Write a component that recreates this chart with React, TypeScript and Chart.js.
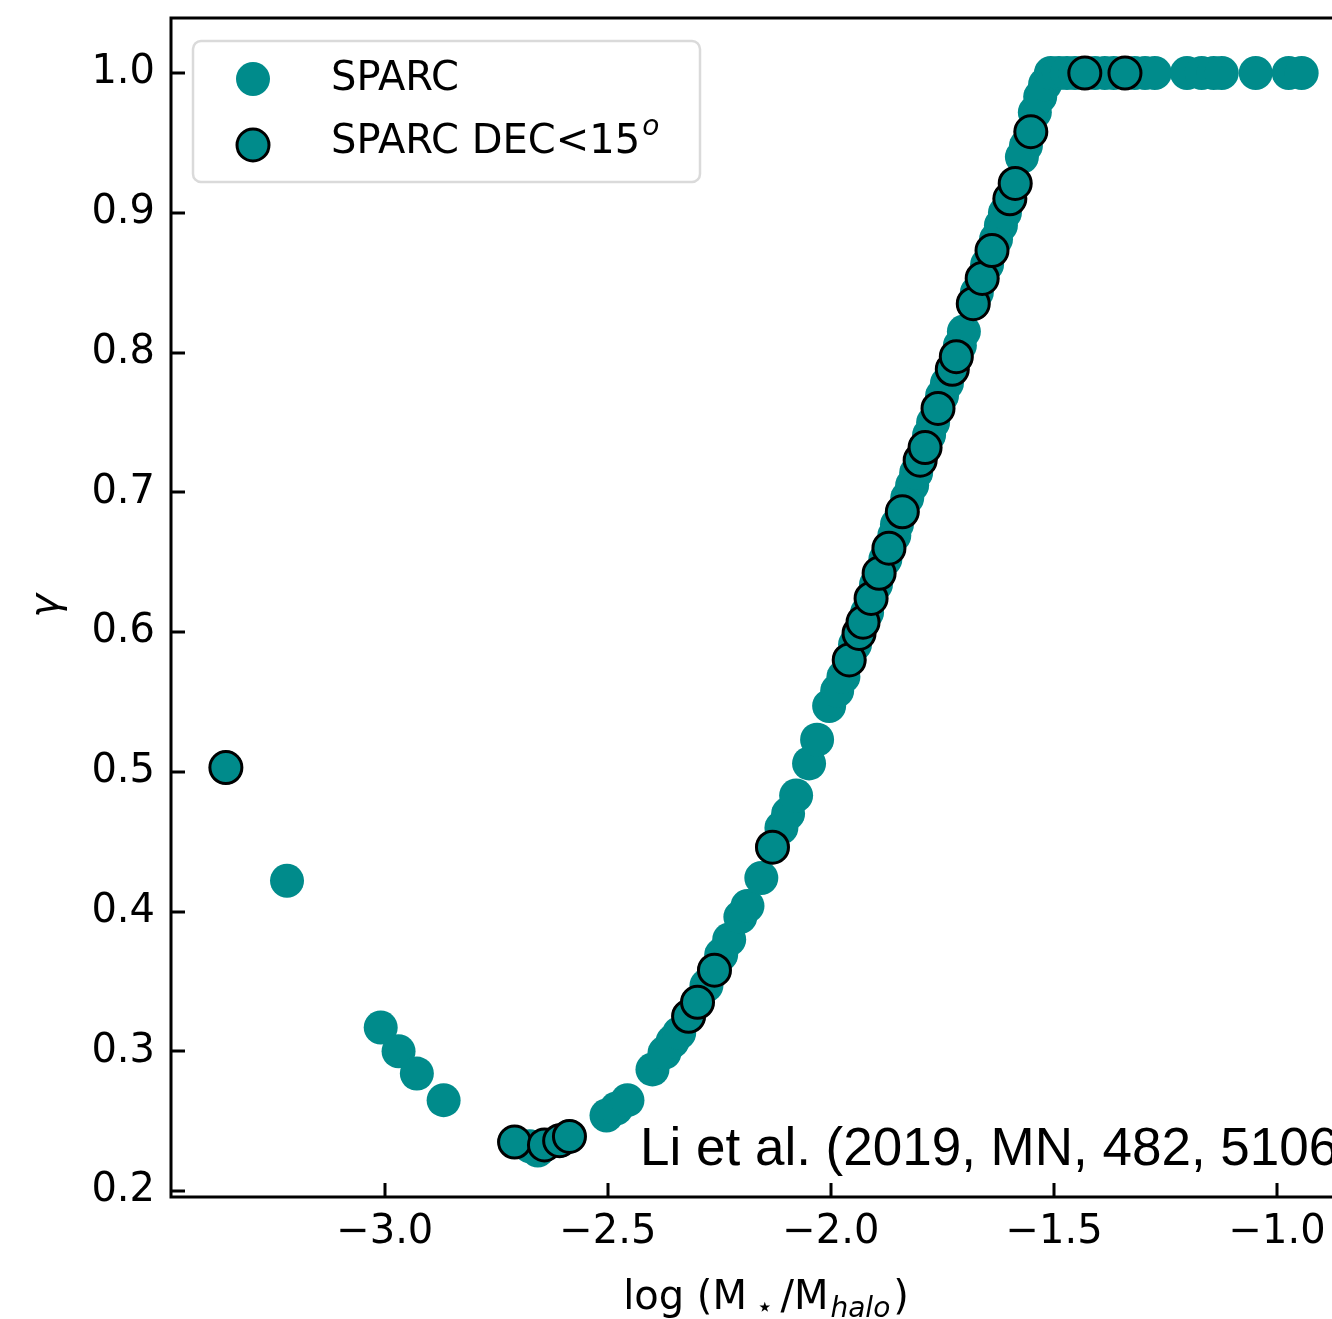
import { useEffect, useRef } from "react";
import { Chart, registerables } from "chart.js";

Chart.register(...registerables);

// log(M*/Mhalo) and gamma for the whole SPARC sample
const SPARC_X = [
  -3.356, -3.219, -3.009, -2.969, -2.928, -2.868,
  -2.709, -2.675, -2.642, -2.608, -2.586, -2.657,
  -2.503, -2.481, -2.456, -2.400, -2.373, -2.355, -2.340, -2.319, -2.299, -2.279,
  -2.261, -2.246, -2.228, -2.203, -2.187, -2.156, -2.131, -2.111, -2.096, -2.078,
  -2.049, -2.031, -2.004, -1.986, -1.972, -1.959, -1.946, -1.937, -1.928, -1.919,
  -1.910, -1.899, -1.892, -1.878, -1.870, -1.858, -1.852, -1.840, -1.829, -1.818,
  -1.809, -1.800, -1.789, -1.780, -1.771, -1.760, -1.751, -1.740, -1.728, -1.719,
  -1.711, -1.702, -1.681, -1.673, -1.661, -1.650, -1.639, -1.630, -1.619, -1.610,
  -1.599, -1.587, -1.572, -1.563, -1.552, -1.543, -1.531, -1.520,
  -1.507, -1.489, -1.471, -1.453, -1.431, -1.408, -1.386, -1.366, -1.341, -1.319,
  -1.296, -1.274, -1.202, -1.169, -1.142, -1.124, -1.048, -0.974, -0.945,
];
const SPARC_Y = [
  0.503, 0.422, 0.317, 0.300, 0.284, 0.265,
  0.235, 0.232, 0.233, 0.236, 0.239, 0.229,
  0.254, 0.259, 0.265, 0.287, 0.299, 0.307, 0.313, 0.325, 0.335, 0.347,
  0.358, 0.369, 0.380, 0.396, 0.404, 0.424, 0.446, 0.460, 0.470, 0.483,
  0.506, 0.523, 0.547, 0.558, 0.568, 0.580, 0.591, 0.599, 0.607, 0.614,
  0.624, 0.634, 0.642, 0.652, 0.660, 0.669, 0.677, 0.686, 0.696, 0.705,
  0.714, 0.723, 0.732, 0.741, 0.750, 0.760, 0.769, 0.778, 0.788, 0.797,
  0.805, 0.815, 0.835, 0.843, 0.853, 0.863, 0.873, 0.881, 0.891, 0.900,
  0.910, 0.921, 0.940, 0.948, 0.958, 0.972, 0.983, 0.992,
  1.0, 1.0, 1.0, 1.0, 1.0, 1.0, 1.0, 1.0, 1.0, 1.0,
  1.0, 1.0, 1.0, 1.0, 1.0, 1.0, 1.0, 1.0, 1.0,
];

// Galaxies with declination below 15 degrees
const DEC_X = [
  -3.356, -2.709, -2.642, -2.608, -2.586, -2.319, -2.299, -2.261, -2.131,
  -1.959, -1.937, -1.928, -1.910, -1.892, -1.870, -1.840, -1.800, -1.789,
  -1.760, -1.728, -1.719, -1.681, -1.661, -1.639, -1.599, -1.587, -1.552,
  -1.431, -1.341,
];
const DEC_Y = [
  0.503, 0.235, 0.233, 0.236, 0.239, 0.325, 0.335, 0.358, 0.446,
  0.580, 0.599, 0.607, 0.624, 0.642, 0.660, 0.686, 0.723, 0.732,
  0.760, 0.788, 0.797, 0.835, 0.853, 0.873, 0.910, 0.921, 0.958,
  1.0, 1.0,
];

const X_TICKS = [-3.0, -2.5, -2.0, -1.5, -1.0];
const Y_TICKS = [0.2, 0.3, 0.4, 0.5, 0.6, 0.7, 0.8, 0.9, 1.0];
const X_MIN = -3.479;
const X_MAX = -0.877;
const Y_MIN = 0.1957;
const Y_MAX = 1.0394;

const TEAL = "#008b8b";
const FONT = "'DejaVu Sans', 'Noto Sans', sans-serif";

const fmtTick = (v: number | string) => Number(v).toFixed(1).replace("-", "\u2212");

// Spines and inward tick marks
const framePlugin = {
  id: "frame",
  beforeDatasetsDraw(chart: any) {
    const { ctx, chartArea } = chart;
    const { left, right, top, bottom } = chartArea;
    const xs = chart.scales.x;
    const ys = chart.scales.y;
    ctx.save();
    ctx.strokeStyle = "#000";
    ctx.lineWidth = 3;
    ctx.lineCap = "butt";
    ctx.beginPath();
    ctx.moveTo(right + 2, top);
    ctx.lineTo(left, top);
    ctx.lineTo(left, bottom);
    ctx.lineTo(right + 2, bottom);
    ctx.stroke();
    ctx.beginPath();
    for (const v of X_TICKS) {
      const px = Math.round(xs.getPixelForValue(v));
      ctx.moveTo(px, bottom);
      ctx.lineTo(px, bottom - 14);
    }
    for (const v of Y_TICKS) {
      const py = Math.round(ys.getPixelForValue(v));
      ctx.moveTo(left, py);
      ctx.lineTo(left + 14, py);
    }
    ctx.stroke();
    ctx.restore();
  },
};

// Axis titles, legend and citation
const textPlugin = {
  id: "texts",
  afterDatasetsDraw(chart: any) {
    const { ctx } = chart;
    ctx.save();
    ctx.fillStyle = "#000";
    ctx.textBaseline = "alphabetic";

    // x-axis title: log (M⋆/M_halo)
    const big = `40px ${FONT}`;
    const small = `28px ${FONT}`;
    const smallIt = `italic 28px ${FONT}`;
    // [text, font, baseline shift, gap after]
    const parts: [string, string, number, number][] = [
      ["log (M", big, 0, 9],
      ["\u22C6", small, 7, 7],
      ["/M", big, 0, 2],
      ["halo", smallIt, 8, 3],
      [")", big, 0, 0],
    ];
    let total = 0;
    for (const [t, f, , g] of parts) {
      ctx.font = f;
      total += ctx.measureText(t).width + g;
    }
    let cx = 766 - total / 2;
    const base = 1309;
    ctx.textAlign = "left";
    for (const [t, f, dy, g] of parts) {
      ctx.font = f;
      ctx.fillText(t, cx, base + dy);
      cx += ctx.measureText(t).width + g;
    }

    // y-axis title: gamma
    ctx.save();
    ctx.translate(58, 606);
    ctx.rotate(-Math.PI / 2);
    ctx.font = `italic 40px ${FONT}`;
    ctx.textAlign = "center";
    ctx.fillText("\u03B3", 0, 0);
    ctx.restore();

    // legend
    const bx = 193, by = 41, bw = 507, bh = 141, r = 8;
    ctx.beginPath();
    ctx.moveTo(bx + r, by);
    ctx.arcTo(bx + bw, by, bx + bw, by + bh, r);
    ctx.arcTo(bx + bw, by + bh, bx, by + bh, r);
    ctx.arcTo(bx, by + bh, bx, by, r);
    ctx.arcTo(bx, by, bx + bw, by, r);
    ctx.closePath();
    ctx.fillStyle = "rgba(255,255,255,0.8)";
    ctx.fill();
    ctx.strokeStyle = "#dadada";
    ctx.lineWidth = 2.5;
    ctx.stroke();

    ctx.fillStyle = TEAL;
    ctx.beginPath();
    ctx.arc(253, 79, 17, 0, Math.PI * 2);
    ctx.fill();
    ctx.beginPath();
    ctx.arc(253, 145, 16, 0, Math.PI * 2);
    ctx.fill();
    ctx.strokeStyle = "#000";
    ctx.lineWidth = 3;
    ctx.stroke();

    ctx.fillStyle = "#000";
    ctx.font = big;
    ctx.textAlign = "left";
    ctx.fillText("SPARC", 331, 90);
    const lab = "SPARC DEC<15";
    ctx.fillText(lab, 331, 153);
    const w = ctx.measureText(lab).width;
    ctx.font = smallIt;
    ctx.fillText("o", 331 + w + 2, 135);

    // citation
    ctx.font = "53px 'Liberation Sans', Arial, sans-serif";
    ctx.fillText("Li et al. (2019, MN, 482, 5106)", 640, 1165);
    ctx.restore();
  },
};

export default function App() {
  const ref = useRef<HTMLCanvasElement>(null);

  useEffect(() => {
    const canvas = ref.current;
    if (!canvas) return;
    const tickFont = { family: FONT, size: 40 };
    const chart = new Chart(canvas, {
      type: "scatter",
      data: {
        datasets: [
          {
            label: "SPARC DEC<15",
            data: DEC_X.map((x, i) => ({ x, y: DEC_Y[i] })),
            backgroundColor: TEAL,
            borderColor: "#000",
            borderWidth: 3,
            pointRadius: 16,
            order: 0,
          },
          {
            label: "SPARC",
            data: SPARC_X.map((x, i) => ({ x, y: SPARC_Y[i] })),
            backgroundColor: TEAL,
            borderWidth: 0,
            pointRadius: 17,
            order: 1,
          },
        ],
      },
      options: {
        responsive: false,
        animation: false,
        devicePixelRatio: 1,
        layout: {
          autoPadding: false,
          padding: { top: 18, left: 0, right: 0, bottom: 0 },
        },
        plugins: {
          legend: { display: false },
          tooltip: { enabled: false },
        },
        scales: {
          x: {
            type: "linear",
            min: X_MIN,
            max: X_MAX,
            grid: { display: false, drawTicks: false },
            border: { display: false },
            afterBuildTicks: (s: any) => {
              s.ticks = X_TICKS.map((v) => ({ value: v }));
            },
            afterFit: (s: any) => {
              s.height = 122;
              s.paddingLeft = 0;
              s.paddingRight = 0;
            },
            ticks: {
              font: tickFont,
              color: "#000",
              padding: 12,
              maxRotation: 0,
              autoSkip: false,
              callback: (v: any) => fmtTick(v),
            },
          },
          y: {
            type: "linear",
            min: Y_MIN,
            max: Y_MAX,
            grid: { display: false, drawTicks: false },
            border: { display: false },
            afterBuildTicks: (s: any) => {
              s.ticks = Y_TICKS.map((v) => ({ value: v }));
            },
            afterFit: (s: any) => {
              s.width = 171;
              s.paddingTop = 0;
              s.paddingBottom = 0;
            },
            ticks: {
              font: tickFont,
              color: "#000",
              padding: 16,
              autoSkip: false,
              callback: (v: any) => fmtTick(v),
            },
          },
        },
      },
      plugins: [framePlugin, textPlugin],
    });
    return () => chart.destroy();
  }, []);

  return (
    <canvas
      ref={ref}
      width={1332}
      height={1319}
      style={{ position: "absolute", left: 0, top: 0, display: "block" }}
    />
  );
}
